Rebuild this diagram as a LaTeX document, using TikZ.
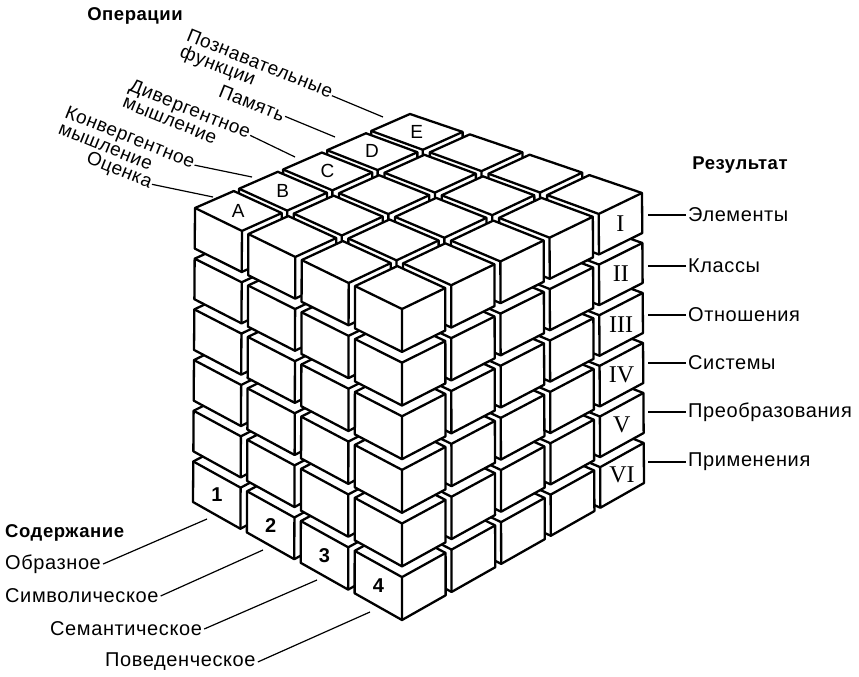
\documentclass[tikz,border=0pt]{standalone}
\usepackage{fontspec}
\setmainfont{Liberation Sans}[LetterSpace=3]
\newfontfamily\romanfont{Liberation Serif}
\usepackage{tikz}
\usetikzlibrary{calc}
\tikzstyle{face}=[draw=black,fill=white,line width=2.3pt,line join=round]
\tikzstyle{edge}=[draw=black,line width=2.3pt,line join=round]
\tikzstyle{heading}=[font=\fontsize{18.5}{20}\selectfont\bfseries,inner sep=1pt]
\tikzstyle{textlbl}=[font=\fontsize{20}{22}\selectfont,inner sep=2pt]
\tikzstyle{oplbl}=[font=\fontsize{19}{17.5}\selectfont,inner sep=1pt,rotate=-22,align=left]
\tikzstyle{tilelbl}=[font=\fontsize{19}{19}\selectfont,inner sep=0pt]
\tikzstyle{numlbl}=[font=\fontsize{20}{20}\selectfont\bfseries,inner sep=0pt]
\tikzstyle{romlbl}=[font=\fontsize{24}{24}\selectfont\romanfont,inner sep=0pt]
\tikzstyle{leader}=[line width=1.2pt]
\tikzset{declare function={
    tx(\su,\sv)=(1-\su)*(1-\sv)*195+\su*(1-\sv)*402+(1-\su)*\sv*410+\su*\sv*642;
    ty(\su,\sv)=(1-\su)*(1-\sv)*208+\su*(1-\sv)*309+(1-\su)*\sv*114+\su*\sv*193;
    bx(\su,\sv)=(1-\su)*(1-\sv)*193+\su*(1-\sv)*402+(1-\su)*\sv*410+\su*\sv*644;
    by(\su,\sv)=(1-\su)*(1-\sv)*502+\su*(1-\sv)*620+(1-\su)*\sv*387+\su*\sv*483;
    px(\qa,\qb,\qh)=(1-\qh/5.8)*tx(\qa/3.88,\qb/4.88)+\qh/5.8*bx(\qa/3.88,\qb/4.88);
    py(\qa,\qb,\qh)=(1-\qh/5.8)*ty(\qa/3.88,\qb/4.88)+\qh/5.8*by(\qa/3.88,\qb/4.88);
  }
}
% point of the block: content, operation, row
\newcommand\sop[3]{({px(#1,#2,#3)},{py(#1,#2,#3)})}
% one small cube
\newcommand\socube[3]{%
  \filldraw[face] \sop{#1}{#2+.88}{#3} -- \sop{#1}{#2}{#3} -- \sop{#1}{#2}{#3+.8}
    -- \sop{#1+.88}{#2}{#3+.8} -- \sop{#1+.88}{#2+.88}{#3+.8} -- \sop{#1+.88}{#2+.88}{#3} -- cycle;
  \draw[edge] \sop{#1}{#2}{#3} -- \sop{#1+.88}{#2}{#3} -- \sop{#1+.88}{#2+.88}{#3}
    \sop{#1+.88}{#2}{#3} -- \sop{#1+.88}{#2}{#3+.8};
}

\begin{document}
\begin{tikzpicture}[x=1pt,y=-1pt]
  \useasboundingbox (0,0) rectangle (859,677);
  % cubes, back to front
  \foreach \k in {5,4,...,0}
    \foreach \j in {4,3,...,0}
      \foreach \i in {0,...,3}
        {\socube{\i}{\j}{\k}}
  % face labels
  \foreach \t [count=\j from 0] in {A,B,C,D,E}
    \node[tilelbl] (tile\t) at \sop{.44}{\j+.44}{0} {\t};
  \foreach \t [count=\i from 0] in {1,2,3,4}
    \node[numlbl] (slab\t) at \sop{\i+.44}{0}{5.4} {\t};
  \foreach \t [count=\k from 0] in {I,II,III,IV,V,VI}
    \node[romlbl] (row\t) at \sop{3.88}{4.44}{\k+.4} {\t};

  % operations
  \node[heading] (ophead) at (135,16) {Операции};
  \node[oplbl] (op5) at (256,73) {Познавательные\\функции};
  \node[oplbl] (op4) at (252,103) {Память};
  \node[oplbl] (op3) at (187,117) {Дивергентное\\мышление};
  \node[oplbl] (op2) at (127,145) {Конвергентное\\мышление};
  \node[oplbl] (op1) at (119,171) {Оценка};
  \coordinate (e5) at (383,117);
  \coordinate (e4) at (335,137);
  \coordinate (e3) at (295,157);
  \coordinate (e2) at (252,177);
  \coordinate (e1) at (213,197);
  \draw[leader] ($(op5.north east)!.6!(op5.east)$) -- (e5);
  \draw[leader] (op4.east) -- (e4);
  \draw[leader] ($(op3.north east)!.6!(op3.east)$) -- (e3);
  \draw[leader] ($(op2.north east)!.6!(op2.east)$) -- (e2);
  \draw[leader] (op1.east) -- (e1);

  % results
  \node[heading] (reshead) at (740,165) {Результат};
  \foreach \t/\y [count=\n] in {Элементы/215,Классы/266,Отношения/315,Системы/363,Преобразования/412,Применения/462}
    {
      \coordinate (r\n) at (648,\y);
      \node[textlbl,anchor=west] (res\n) at (686,\y) {\t};
      \draw[leader] (r\n) -- (res\n);
    }

  % content
  \node[heading,anchor=west] (conthead) at (4,533) {Содержание};
  \node[textlbl,anchor=west] (cont1) at (3,564) {Образное};
  \node[textlbl,anchor=west] (cont2) at (3,596) {Символическое};
  \node[textlbl,anchor=west] (cont3) at (48,629) {Семантическое};
  \node[textlbl,anchor=west] (cont4) at (103,662) {Поведенческое};
  \coordinate (c1) at (207,519);
  \coordinate (c2) at (263,550);
  \coordinate (c3) at (317,580);
  \coordinate (c4) at (370,612);
  \foreach \n in {1,...,4}
    \draw[leader] (cont\n.east) -- (c\n);
\end{tikzpicture}
\end{document}
